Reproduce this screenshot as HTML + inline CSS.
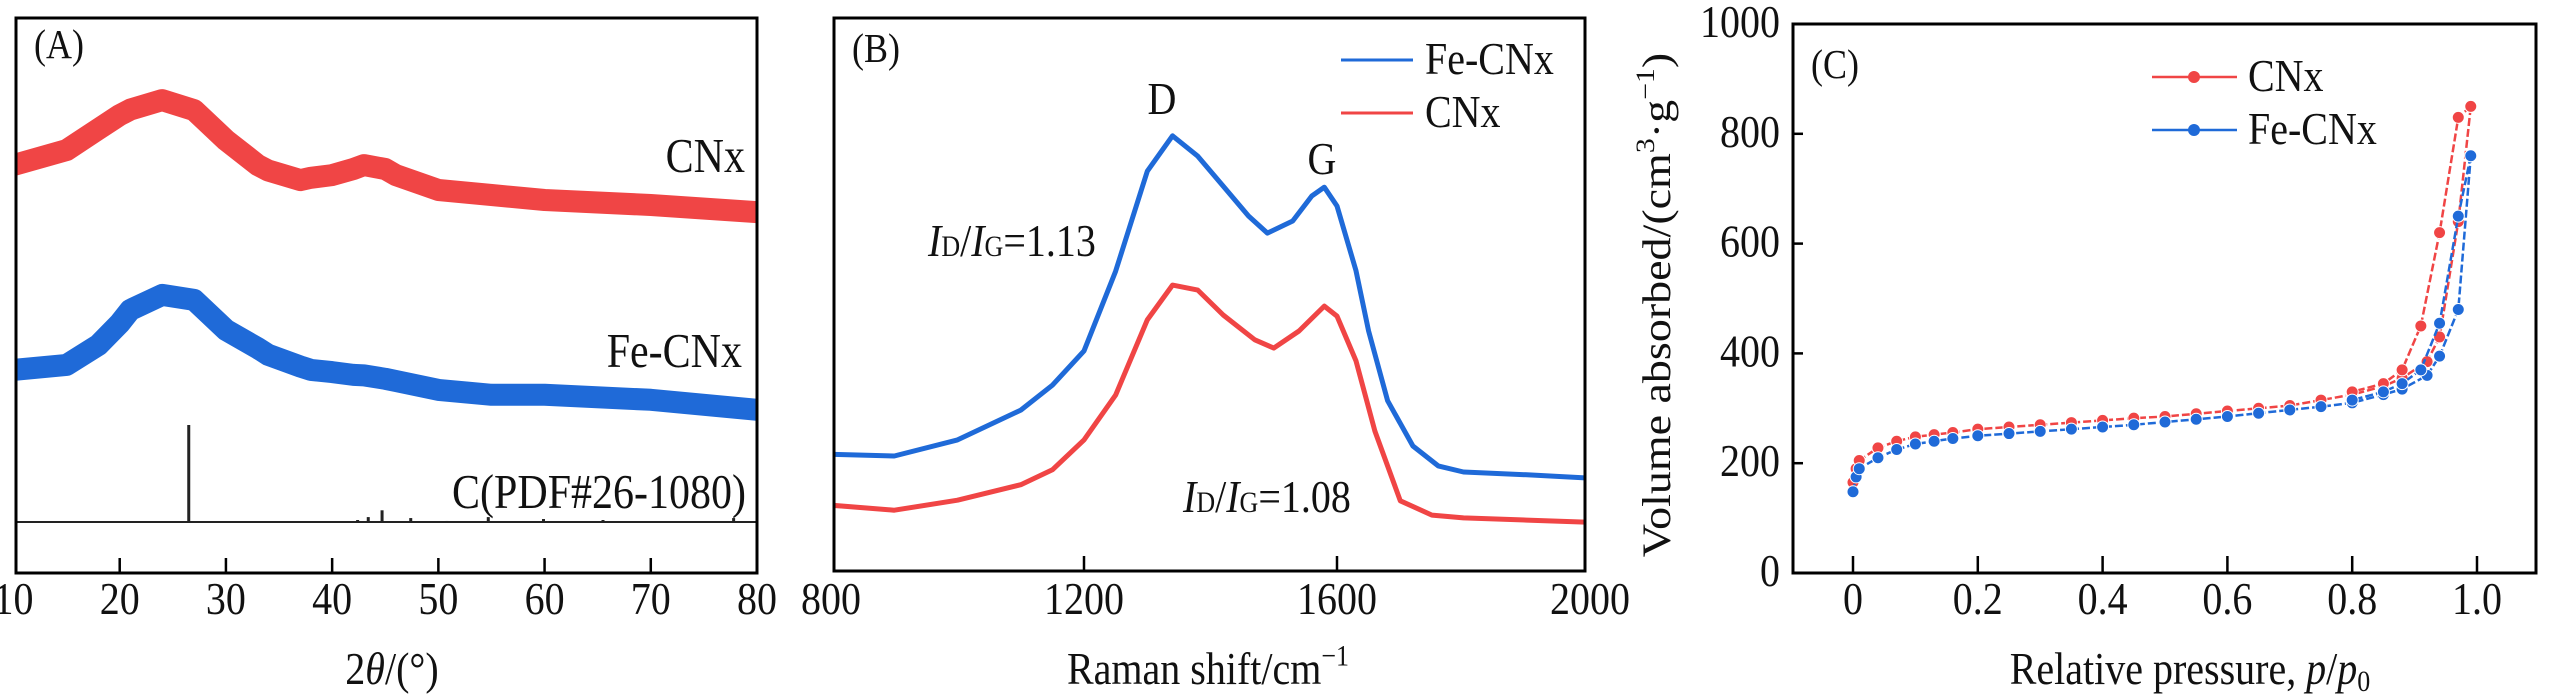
<!DOCTYPE html>
<html><head><meta charset="utf-8"><style>
html,body{margin:0;padding:0;background:#fff;}
svg{display:block;font-family:"Liberation Serif",serif;}
</style></head><body>
<svg id="fig" width="2554" height="694" viewBox="0 0 2554 694" xmlns="http://www.w3.org/2000/svg"></svg>
<script>
// ---------- Panel A data (XRD) ----------
const xrdX = [10,15,18,20,21,24,27,30,33,34,37,38,40,42,43,45,46,50,55,60,70,80];
const xrdCNx = [735,762,800,825,835,852,834,780,735,725,708,712,717,728,735,728,717,690,681,672,663,650];
const xrdFeCNx = [366,375,411,450,474,501,492,438,405,393,372,366,362,357,356,350,346,330,321,321,312,294];
const pdfPos = [26.5,42.4,43.4,44.7,47.4,50.8,54.7,59.9,65.5,77.8];
const pdfInt = [100,2,5,12,4,1,5,3,2,4];
const xrdTicks = [10,20,30,40,50,60,70,80];
// ---------- Panel B data (Raman) ----------
const ramanX = [800,900,1000,1100,1150,1200,1250,1300,1340,1380,1420,1460,1490,1530,1560,1580,1600,1630,1650,1680,1720,1760,1800,1900,2000];
const ramanFeCNx = [211,208,237,291,336,398,542,723,787,750,696,642,611,633,678,694,660,543,434,308,226,190,179,174,168];
const ramanX2 = [800,900,1000,1100,1150,1200,1250,1300,1340,1380,1420,1470,1500,1540,1580,1600,1630,1660,1700,1750,1800,1900,2000];
const ramanCNx = [119,110,128,156,183,237,318,454,517,508,463,418,403,434,479,461,380,253,127,101,96,92,88];
const ramanTicks = [800,1200,1600,2000];
// ---------- Panel C data (BET) ----------
const betX = [0,0.005,0.01,0.04,0.07,0.1,0.13,0.16,0.2,0.25,0.3,0.35,0.4,0.45,0.5,0.55,0.6,0.65,0.7,0.75,0.8,0.85,0.88,0.92,0.94,0.97,0.99];
const betCNxAds = [165,190,205,228,240,248,252,256,262,266,270,274,278,282,285,290,295,300,305,315,325,340,355,385,430,640,850];
const betFeAds = [148,175,190,210,225,235,240,245,250,254,258,262,266,270,275,280,285,291,297,303,310,325,335,360,395,480,760];
const betDesX = [0.99,0.97,0.94,0.91,0.88,0.85,0.8];
const betCNxDes = [850,830,620,450,370,345,330];
const betFeDes = [760,650,455,370,345,330,315];
const betXTicks = [0,0.2,0.4,0.6,0.8,1.0];
const betXLabels = ["0","0.2","0.4","0.6","0.8","1.0"];
const betYTicks = [0,200,400,600,800,1000];

const NS="http://www.w3.org/2000/svg";
const svg=document.getElementById('fig');
function mk(tag,attrs,parent){const e=document.createElementNS(NS,tag);for(const k in attrs)e.setAttribute(k,attrs[k]);(parent||svg).appendChild(e);return e;}
function txt(x,y,s,size,anchor,name,parent){
  const g=mk('g',{transform:`translate(${x},${y}) scale(1,1.15)`},parent);
  const t=mk('text',{x:0,y:0,'font-size':size,'text-anchor':anchor||'start',fill:'#111'},g);
  t.innerHTML=s;
  
  
  return t;
}
function path(xs,ys,fx,fy){return xs.map((v,i)=>(i?'L':'M')+fx(v).toFixed(1)+','+fy(ys[i]).toFixed(1)).join('');}

// ===== Panel A =====
const A={l:16,r:757,t:18,b:573};
const axA=v=>13.5+(v-10)*(757-13.5)/70;
const ayA=v=>A.b-v*0.555;
const gA=mk('g',{});


const clipA=mk('clipPath',{id:'ca'},svg);mk('rect',{x:A.l,y:A.t,width:A.r-A.l,height:A.b-A.t},clipA);
let e=mk('path',{d:path(xrdX,xrdCNx,axA,ayA),fill:'none',stroke:'#f04545','stroke-width':22,'stroke-linejoin':'round','clip-path':'url(#ca)'},gA);


e=mk('path',{d:path(xrdX,xrdFeCNx,axA,ayA),fill:'none',stroke:'#1f6ad8','stroke-width':22,'stroke-linejoin':'round','clip-path':'url(#ca)'},gA);


e=mk('line',{x1:A.l,x2:A.r,y1:ayA(92),y2:ayA(92),stroke:'#222','stroke-width':2},gA);


pdfPos.forEach((p,i)=>{
  const l=mk('line',{x1:axA(p),x2:axA(p),y1:ayA(92),y2:ayA(92)-pdfInt[i]*0.97,stroke:'#222','stroke-width':3},gA);
  
  
});
e=mk('rect',{x:A.l,y:A.t,width:A.r-A.l,height:A.b-A.t,fill:'none',stroke:'#000','stroke-width':3},gA);


xrdTicks.forEach(v=>{
  if(v>10&&v<80){const t=mk('line',{x1:axA(v),x2:axA(v),y1:A.b,y2:A.b-15,stroke:'#000','stroke-width':2.5},gA);
  
  }
  txt(axA(v),614,String(v),40,'middle','x-tick-label',gA);
});
txt(392,684,'2<tspan font-style="italic">θ</tspan>/(°)',40,'middle','x-axis-title',gA);
txt(34,58,'(A)',36,'start','panel-label-a',gA);
txt(745,172,'CNx',42,'end','label-cnx',gA);
txt(742,367,'Fe-CNx',42,'end','label-fecnx',gA);
txt(746,508,'C(PDF#26-1080)',42,'end','label-pdf',gA);

// ===== Panel B =====
const B={l:834,r:1585,t:18,b:571};
const axB=v=>831+(v-800)*(253/400);
const ayB=v=>B.b-v*0.553;
const gB=mk('g',{});


const clipB=mk('clipPath',{id:'cb'},svg);mk('rect',{x:B.l,y:B.t,width:B.r-B.l,height:B.b-B.t},clipB);
e=mk('path',{d:path(ramanX,ramanFeCNx,axB,ayB),fill:'none',stroke:'#1f6ad8','stroke-width':5,'stroke-linejoin':'round','clip-path':'url(#cb)'},gB);


e=mk('path',{d:path(ramanX2,ramanCNx,axB,ayB),fill:'none',stroke:'#f04545','stroke-width':5,'stroke-linejoin':'round','clip-path':'url(#cb)'},gB);


e=mk('rect',{x:B.l,y:B.t,width:B.r-B.l,height:B.b-B.t,fill:'none',stroke:'#000','stroke-width':3},gB);


ramanTicks.forEach(v=>{
  if(v>800&&v<2000){const t=mk('line',{x1:axB(v),x2:axB(v),y1:B.b,y2:B.b-15,stroke:'#000','stroke-width':2.5},gB);
  
  }
  txt(axB(v),614,String(v),40,'middle','x-tick-label',gB);
});
txt(1208,684,'Raman shift/cm<tspan font-size="26" dy="-16">−1</tspan>',40,'middle','x-axis-title',gB);
txt(852,62,'(B)',36,'start','panel-label-b',gB);
txt(1162,114,'D',40,'middle','peak-label-d',gB);
txt(1322,174,'G',40,'middle','peak-label-g',gB);
txt(928,256,'<tspan font-style="italic">I</tspan><tspan font-size="26">D</tspan>/<tspan font-style="italic">I</tspan><tspan font-size="26">G</tspan>=1.13',40,'start','ratio-fecnx',gB);
txt(1183,512,'<tspan font-style="italic">I</tspan><tspan font-size="26">D</tspan>/<tspan font-style="italic">I</tspan><tspan font-size="26">G</tspan>=1.08',40,'start','ratio-cnx',gB);
e=mk('line',{x1:1341,x2:1413,y1:60,y2:60,stroke:'#1f6ad8','stroke-width':3},gB);


e=mk('line',{x1:1341,x2:1413,y1:113,y2:113,stroke:'#f04545','stroke-width':3},gB);


txt(1425,74,'Fe-CNx',40,'start','legend-fecnx',gB);
txt(1425,127,'CNx',40,'start','legend-cnx',gB);

// ===== Panel C =====
const C={l:1793,r:2536,t:24,b:573};
const axC=v=>1853+v*(2477-1853);
const ayC=v=>C.b-v*(C.b-C.t)/1000;
const gC=mk('g',{});


function series(xs,ys,col,name){
  const p=mk('path',{d:path(xs,ys,axC,ayC),fill:'none',stroke:col,'stroke-width':2.5,'stroke-dasharray':'8,3'},gC);
  
  
  xs.forEach((x,i)=>{
    const c=mk('circle',{cx:axC(x),cy:ayC(ys[i]),r:6,fill:col,stroke:'#fff','stroke-width':1},gC);
    
    
  });
}
series(betX,betCNxAds,'#f04545','cnx-adsorption');
series(betDesX,betCNxDes,'#f04545','cnx-desorption');
series(betX,betFeAds,'#1f6ad8','fecnx-adsorption');
series(betDesX,betFeDes,'#1f6ad8','fecnx-desorption');
e=mk('rect',{x:C.l,y:C.t,width:C.r-C.l,height:C.b-C.t,fill:'none',stroke:'#000','stroke-width':3},gC);


betXTicks.forEach((v,i)=>{
  const t=mk('line',{x1:axC(v),x2:axC(v),y1:C.b,y2:C.b-17,stroke:'#000','stroke-width':2.5},gC);
  
  
  txt(axC(v),614,betXLabels[i],40,'middle','x-tick-label',gC);
});
betYTicks.forEach(v=>{
  if(v>0&&v<1000){const t=mk('line',{x1:C.l,x2:C.l+10,y1:ayC(v),y2:ayC(v),stroke:'#000','stroke-width':2.5},gC);
  
  }
  txt(1780,ayC(v)+13,String(v),40,'end','y-tick-label',gC);
});
txt(2190,684,'Relative pressure, <tspan font-style="italic">p</tspan>/<tspan font-style="italic">p</tspan><tspan font-size="26" dy="6">0</tspan>',40,'middle','x-axis-title',gC);
const yt=mk('g',{transform:'translate(1670,305) rotate(-90) scale(1.15,1)'},gC);
e=mk('text',{x:0,y:0,'font-size':40,'text-anchor':'middle',fill:'#111'},yt);
e.innerHTML='Volume absorbed/(cm<tspan font-size="26" dy="-16">3</tspan><tspan dy="16">·g</tspan><tspan font-size="26" dy="-16">−1</tspan><tspan dy="16">)</tspan>';


txt(1811,78,'(C)',36,'start','panel-label-c',gC);
[['#f04545',77,'CNx','legend-cnx'],['#1f6ad8',130,'Fe-CNx','legend-fecnx']].forEach(([col,y,lab,nm])=>{
  const l=mk('line',{x1:2152,x2:2237,y1:y,y2:y,stroke:col,'stroke-width':2.5},gC);
  
  
  const c=mk('circle',{cx:2194,cy:y,r:6,fill:col},gC);
  
  
  txt(2248,y+14,lab,40,'start',nm,gC);
});
</script>
</body></html>
